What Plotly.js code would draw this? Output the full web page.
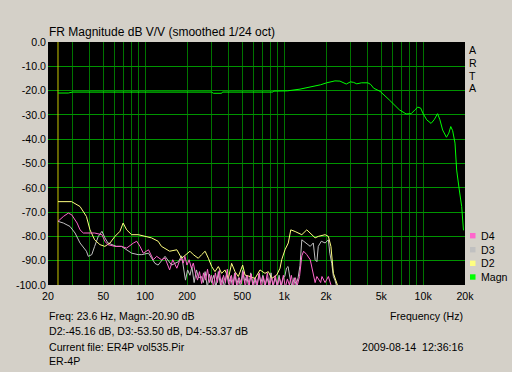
<!DOCTYPE html>
<html>
<head>
<meta charset="utf-8">
<script src="https://cdn.plot.ly/plotly-3.0.1.min.js"></script>
<style>
html,body{margin:0;padding:0;background:#d4d0c8;}
#chart{width:512px;height:372px;}
</style>
</head>
<body>
<div id="chart"></div>
<script>
// ---------- data ----------
const magnFreq = [23.6,28,30,100,200,300,310,355,360,830,840,1000,1060,1300,1540,1830,2020,2200,2320,2520,2640,2800,3000,3150,3330,3600,4000,4200,4400,4900,5700,6740,7540,8200,8700,9150,9600,9940,10600,11400,12000,12700,13200,13800,14700,15300,15800,16300,16950,17420,18200,18930,19500];
const magnDb   = [-21.0,-21.0,-20.6,-20.6,-20.6,-20.6,-21.1,-21.1,-20.6,-20.6,-20.2,-20.2,-20.1,-19.4,-18.6,-17.6,-16.8,-16.3,-16.0,-16.1,-16.6,-17.3,-16.4,-16.6,-17.2,-16.8,-16.8,-17.5,-19.0,-20.3,-23.8,-27.9,-29.6,-29.5,-28.0,-26.8,-27.2,-29.2,-32.0,-33.5,-32.0,-29.5,-32.0,-36.2,-39.2,-37.5,-34.8,-36.5,-41.6,-52.7,-60.9,-67.7,-77.5];

const d2Freq = [23.6,29.6,34,37.8,40.1,43.3,47.3,51.3,55.9,60.6,65.9,69.4,73.6,79.9,89.2,99,111,124,131,150,169,183,195,210,222,241,255,270,285,301,318,336,355,375,397,419,443,468,503,523,568,617,670,728,769,814,884,934,960,1014,1071,1116,1200,1265,1340,1455,1540,1670,1760,1970,2080,2170,2260,2390,2450];
const d2Db   = [-65.7,-65.7,-67.7,-71.8,-77.3,-81.4,-83.4,-84.1,-82.7,-80.0,-77.9,-74.5,-77.3,-79.3,-79.3,-80.0,-80.6,-82.0,-84.1,-86.1,-85.5,-89.0,-87.5,-86.1,-87.5,-89.0,-87.5,-86.1,-89.0,-92.4,-94.5,-92.4,-95.2,-93.8,-97.3,-91.1,-94.5,-96.5,-91.8,-95.9,-96.5,-97.3,-93.8,-95.2,-94.5,-97.3,-95.9,-93.1,-89.6,-85.5,-82.7,-77.3,-78.0,-78.6,-79.3,-77.3,-78.6,-80.6,-80.0,-79.3,-80.0,-84.1,-95.2,-98.6,-101];

const d3Freq = [23.6,25.8,28.8,31.3,34,37.8,39,41.3,43.3,46,48.9,51.3,54,59,62,67.5,73.6,80,89,94.5,105.7,117.6,124,139,155,173.5,183,188,195,202,210,217,225,234,242,254,262,270,280,290,300,312,323,336,348,360,372,385,398,412,426,440,455,470,486,502,520,537,556,575,595,615,636,658,680,703,727,752,778,805,832,860,890,920,951,984,1010,1040,1067,1100,1140,1180,1220,1260,1300,1340,1380,1540,1620,1670,1720,1760,1850,1970,2080,2130,2200,2260,2320,2400];
const d3Db   = [-73.8,-74.5,-75.9,-78.6,-82.7,-86.1,-88.2,-87.5,-84.1,-80.0,-77.9,-80.6,-82.7,-83.4,-84.1,-84.1,-85.5,-86.9,-87.5,-87.5,-86.9,-91.1,-91.8,-88.2,-91.8,-90.4,-88,-91.8,-98,-93.8,-96,-92.5,-99,-93.8,-97,-96.5,-99,-94.5,-101,-95.5,-99,-96,-101,-94.5,-100,-97,-101,-95,-99.5,-96.5,-101,-95,-100,-97,-101,-94,-99,-96,-101,-95,-100,-97,-101,-95.5,-99,-96,-101,-97,-100,-95,-101,-97,-100,-96,-101,-97,-96.5,-93,-92.4,-97,-101,-97,-100,-97,-92,-81.4,-82.0,-84.1,-82.7,-89.6,-90.4,-84.1,-82.0,-82.7,-81.4,-86.9,-91.1,-96.5,-98,-101];

const d4Freq = [23.6,25.8,28,29.6,32.4,34,35.9,39,43.3,48.9,51.3,54,60.5,67.5,73.6,82.5,87,91.8,97,105.7,114.5,121,131,139,150,158,169,176,182,188,193,200,207,215,222,230,238,246,255,263,272,281,290,300,310,320,331,342,354,366,378,390,403,417,431,445,460,476,492,508,525,543,561,580,600,620,641,663,685,708,732,757,782,809,836,864,893,923,955,987,1020,1055,1090,1127,1165,1205,1245,1290,1340,1380,1455,1540,1620,1670,1720,1830,1870,1970,2080,2130,2200];
const d4Db   = [-73.8,-71.8,-70.4,-71.1,-74.5,-77.3,-78.6,-78.6,-78.6,-79.3,-82.0,-83.4,-84.1,-84.1,-84.8,-82.7,-82.0,-84.1,-86.9,-85.5,-89.6,-88.2,-89.6,-88.9,-93.8,-89.6,-93.1,-90.4,-89,-91,-88.2,-91.8,-89.6,-93,-91,-95.2,-98,-94.5,-99.4,-95,-98,-93.5,-99,-96,-101,-95,-99,-94,-101,-96,-99,-93.5,-101,-96,-100,-95,-101,-97,-99.5,-94.5,-101,-96,-100,-95.5,-101,-97,-100,-95,-101,-96.5,-100,-95,-101,-97,-100,-96,-101,-97,-100,-96,-101,-97.5,-100,-96,-101,-97,-100,-96.5,-88.0,-86.1,-87.5,-89.6,-95.0,-99.0,-96.5,-99.0,-96.5,-99.0,-96.5,-99.0,-101];

const cursorFreq = [23.6, 23.6];
const cursorDb = [-100, 0];

const seriesNames = ['D4','D3','D2','Magn'];
const seriesColors = ['#ff66cc','#c0c0c0','#ffff80','#00ff00'];

const xGridVals = [30,40,50,60,70,80,90,100,200,300,400,500,600,700,800,900,1000,2000,3000,4000,5000,6000,7000,8000,9000,10000];
const xLabelVals = [20,50,100,200,500,1000,2000,5000,10000,20000];
const xLabelText = ['20','50','100','200','500','1k','2k','5k','10k','20k'];
const yLabelVals = [0,-10,-20,-30,-40,-50,-60,-70,-80,-90,-100];
const yGridVals = [-10,-20,-30,-40,-50,-60,-70,-80,-90];

const titleText = 'FR Magnitude dB V/V (smoothed 1/24 oct)';
const infoLines = ['Freq: 23.6 Hz, Magn:-20.90 dB','D2:-45.16 dB, D3:-53.50 dB, D4:-53.37 dB','Current file: ER4P vol535.Pir','ER-4P'];
const xTitle = 'Frequency (Hz)';
const dateText = '2009-08-14\u00a0 12:36:16';
const brandLetters = ['A','R','T','A'];

// ---------- layout helpers ----------
const W = 512, H = 372;
const M = {l:48, r:47, t:42, b:87};
const PW = W - M.l - M.r, PH = H - M.t - M.b;
const px = x => (x - M.l) / PW;
const py = y => (M.t + PH - y) / PH;
const FONT = 'Liberation Sans, Arial, sans-serif';
const FS = 10.6;

function line(x, y, color, name) {
  return {x:x, y:y, type:'scatter', mode:'lines', name:name, showlegend:false,
          line:{color:color, width:1}, hoverinfo:'skip'};
}

const traces = [
  line(cursorFreq, cursorDb, '#c8c800', 'cursor'),
  line(d3Freq, d3Db, seriesColors[1], 'D3'),
  line(d2Freq, d2Db, seriesColors[2], 'D2'),
  line(d4Freq, d4Db, seriesColors[0], 'D4'),
  line(magnFreq, magnDb, seriesColors[3], 'Magn')
];

const annotations = [];
const txt = (text, x, y, anchor) => annotations.push({
  text:text, xref:'paper', yref:'paper', x:px(x), y:py(y), xanchor:anchor, yanchor:'middle',
  showarrow:false, font:{family:FONT, size:FS, color:'#000'}
});
const infoY = [315.7, 330.7, 347.3, 360.7];
infoLines.forEach((t,i) => txt(t, 46.5, infoY[i], 'left'));
txt(xTitle, 464.5, 315.7, 'right');
txt(dateText, 464.5, 347.3, 'right');
const brandY = [50, 62.8, 75.5, 88.3];
brandLetters.forEach((t,i) => txt(t, 472.5, brandY[i], 'center'));
const legY = [235.7, 249.7, 263.3, 277];
const shapes = [];
seriesNames.forEach((n,i) => {
  txt(n, 478.5, legY[i], 'left');
  shapes.push({type:'rect', xref:'paper', yref:'paper',
    x0:px(470), x1:px(475.5), y0:py(legY[i]+2.7), y1:py(legY[i]-2.7),
    fillcolor:seriesColors[i], line:{width:0}});
});

const layout = {
  width:W, height:H,
  margin:M,
  paper_bgcolor:'#d4d0c8',
  plot_bgcolor:'#000000',
  showlegend:false,
  font:{family:FONT, size:FS, color:'#000'},
  title:{text:titleText, x:49/W, xref:'container', xanchor:'left', y:1-32/H, yref:'container', yanchor:'middle',
         font:{family:FONT, size:12, color:'#000'}},
  xaxis:{type:'log', range:[Math.log10(20), Math.log10(20000)],
         tickmode:'array', tickvals:xLabelVals, ticktext:xLabelText,
         showgrid:false, zeroline:false, showline:false, ticks:'', ticklabelstandoff:3,
         minor:{tickmode:'array', tickvals:xGridVals, showgrid:true, gridcolor:'#007400', gridwidth:1, ticks:''},
         tickfont:{family:FONT, size:FS, color:'#000'}, fixedrange:true},
  yaxis:{range:[-100, 0], tickmode:'array', tickvals:yLabelVals, ticktext:yLabelVals.map(v => v.toFixed(1)),
         showgrid:false, zeroline:false, showline:false, ticks:'', ticklabelstandoff:1,
         minor:{tickmode:'array', tickvals:yGridVals, showgrid:true, gridcolor:'#009400', gridwidth:1, ticks:''},
         tickfont:{family:FONT, size:FS, color:'#000'}, fixedrange:true},
  annotations:annotations,
  shapes:shapes
};

Plotly.newPlot('chart', traces, layout, {staticPlot:true, displayModeBar:false});
</script>
</body>
</html>
